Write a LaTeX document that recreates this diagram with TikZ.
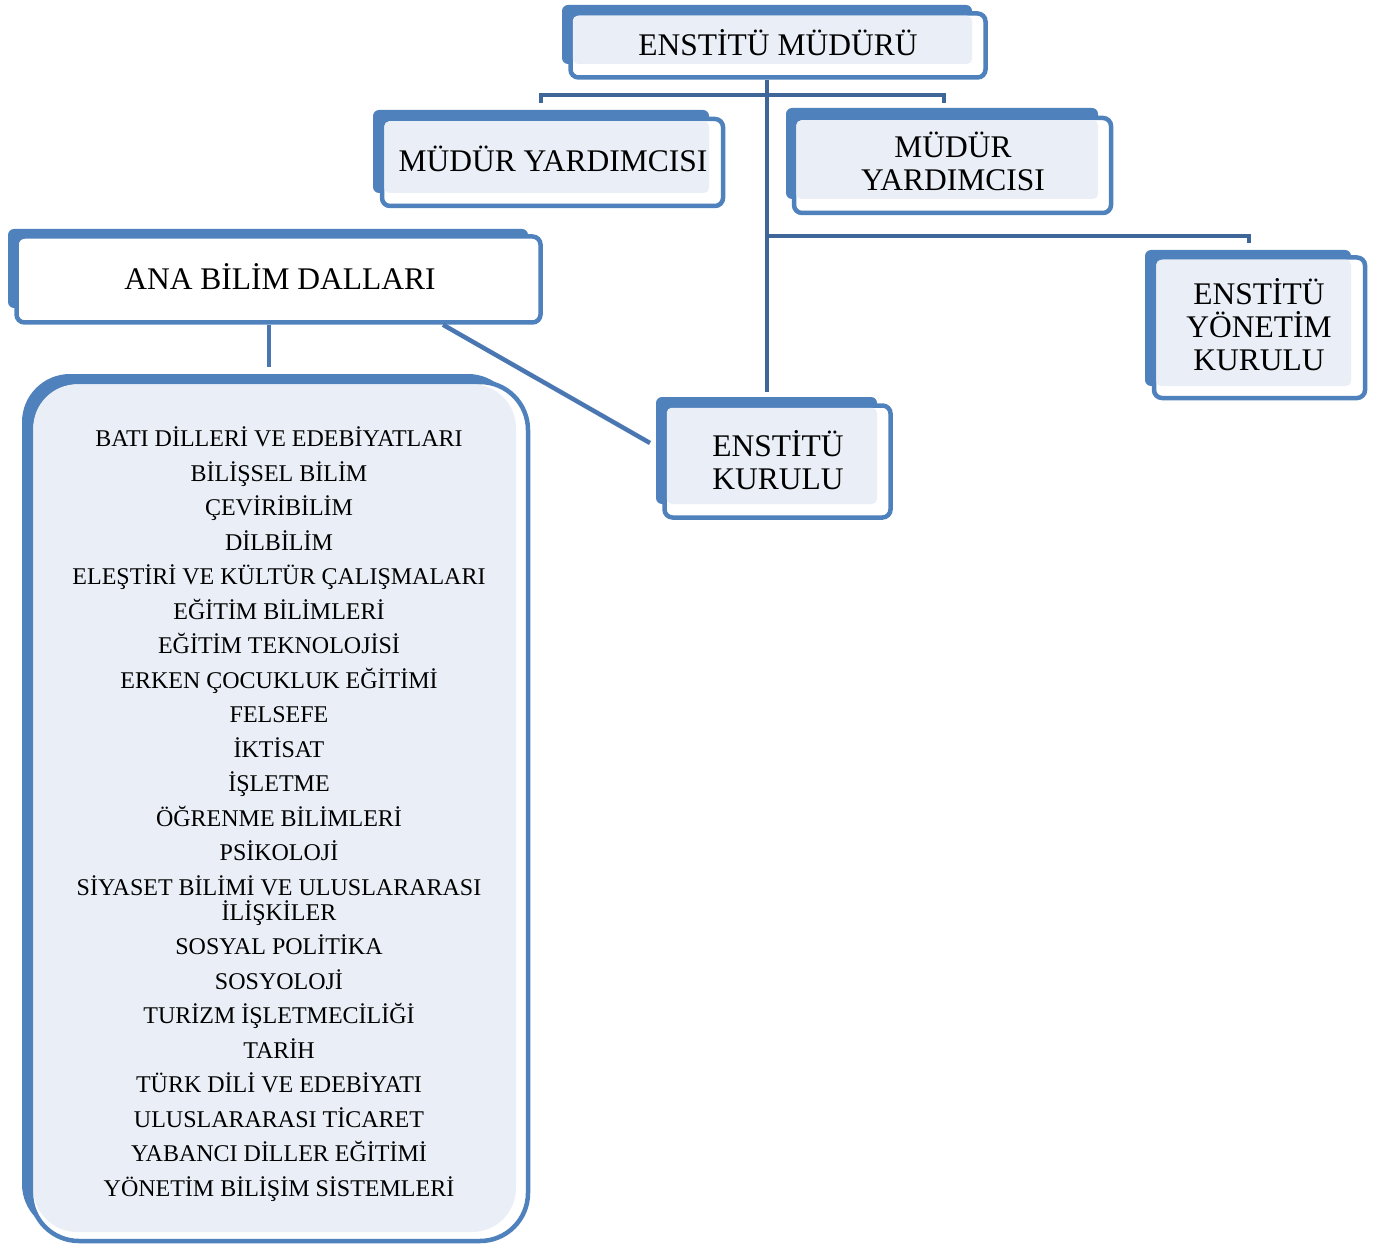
\documentclass[tikz,border=0pt]{standalone}
\usepackage{fontspec}
\setmainfont{Liberation Serif}
\usetikzlibrary{fit}
\definecolor{boxblue}{HTML}{4F81BD}
\definecolor{lightfill}{HTML}{EAEFF7}
\definecolor{treeblue}{HTML}{3F6699}
\definecolor{linkblue}{HTML}{4A77B1}
\newcommand\Lt[1]{\vrule width0pt height 21pt depth 0pt\smash{#1}}
\newcommand\Ls[1]{\vrule width0pt height 16pt depth 0pt\smash{#1}}
\newcommand\orgbox[9]{%
  \fill[boxblue, rounded corners=6pt] (#2,#3) rectangle (#4,#5);
  \node[frontbox, fit={(#6,#7) (#8,#9)}] (#1) {};
}
\tikzset{
  frontbox/.style={draw=boxblue, line width=4.5pt, fill=white, rounded corners=8pt, inner sep=0pt},
  ttl/.style={font=\fontsize{31.5}{33}\selectfont, align=center, inner sep=0pt, text=black},
  lsttxt/.style={font=\fontsize{24}{34.5}\selectfont, align=center, inner sep=0pt, text=black},
  tree/.style={draw=treeblue, line width=4.5pt},
  link/.style={draw=linkblue, line width=4.5pt},
}
\begin{document}
\begin{tikzpicture}[x=1pt, y=-1pt]
\useasboundingbox (0,0) rectangle (1375,1246);

% ENSTITU MUDURU
\orgbox{mud}{562}{5}{972}{64}{570.5}{13.5}{985.5}{77.5}
\fill[lightfill, rounded corners=5pt] (572.75,15.75) rectangle (972,64);
% MUDUR YARDIMCISI left
\orgbox{myl}{373}{110}{709}{193}{382}{119}{723}{206}
\fill[lightfill, rounded corners=5pt] (384.25,121.25) rectangle (709,193);
% MUDUR YARDIMCISI right
\orgbox{myr}{786}{108}{1098}{199}{794}{118}{1111}{213}
\fill[lightfill, rounded corners=5pt] (796.25,120.25) rectangle (1098,199);
% ANA BILIM DALLARI
\orgbox{ana}{8}{229}{528}{308}{16.5}{236.5}{540.5}{322.5}
% ENSTITU YONETIM KURULU
\orgbox{eyk}{1145}{250}{1351}{386}{1154}{257.5}{1365}{398}
\fill[lightfill, rounded corners=5pt] (1156.25,259.75) rectangle (1351,386);
% ENSTITU KURULU
\orgbox{ek}{656}{397}{877}{504}{664.5}{405.5}{890.5}{517.5}
\fill[lightfill, rounded corners=5pt] (666.75,407.75) rectangle (877,504);
% list box
\fill[boxblue, rounded corners=48pt] (22,374) rectangle (516,1232);
\node[frontbox, rounded corners=48pt, fit={(31,382) (528,1241)}] (lstbox) {};
\fill[lightfill, rounded corners=44pt] (33.25,384.25) rectangle (516,1232);

% connectors
\coordinate (tb) at (767,392);
\draw[tree] (mud.south -| tb) -- (tb);
\coordinate (ya) at (541,103);
\coordinate (yb) at (944,103);
\draw[tree] (ya) -- ++(0,-8) -| (yb);
\coordinate (ra) at (767,236);
\coordinate (rb) at (1249,243);
\draw[tree] (ra) -| (rb);
\coordinate (lt) at (269,367);
\draw[link] (ana.south -| lt) -- (lt);
\coordinate (dx) at (443,0);
\coordinate (de) at (650,443);
\draw[link] (ana.south -| dx) -- (de);

% texts
\node[ttl] (t-mud) at (778,45) {\Lt{ENSTİTÜ MÜDÜRÜ}};
\node[ttl] (t-myl) at (553,161) {\Lt{MÜDÜR YARDIMCISI}};
\node[ttl] (t-myr) at (953,163.5) {\Lt{MÜDÜR}\\\Lt{YARDIMCISI}};
\node[ttl] (t-ana) at (280,279) {\Lt{ANA BİLİM DALLARI}};
\node[ttl] (t-eyk) at (1259,327) {\Lt{ENSTİTÜ}\\\Lt{YÖNETİM}\\\Lt{KURULU}};
\node[ttl] (t-ek) at (778,462) {\Lt{ENSTİTÜ}\\\Lt{KURULU}};
\node[lsttxt] (t-lst) at (279,813.25) {%
\Ls{BATI DİLLERİ VE EDEBİYATLARI}\\
\Ls{BİLİŞSEL BİLİM}\\
\Ls{ÇEVİRİBİLİM}\\
\Ls{DİLBİLİM}\\
\Ls{ELEŞTİRİ VE KÜLTÜR ÇALIŞMALARI}\\
\Ls{EĞİTİM BİLİMLERİ}\\
\Ls{EĞİTİM TEKNOLOJİSİ}\\
\Ls{ERKEN ÇOCUKLUK EĞİTİMİ}\\
\Ls{FELSEFE}\\
\Ls{İKTİSAT}\\
\Ls{İŞLETME}\\
\Ls{ÖĞRENME BİLİMLERİ}\\
\Ls{PSİKOLOJİ}\\
\Ls{SİYASET BİLİMİ VE ULUSLARARASI}\\[-9.5pt]
\Ls{İLİŞKİLER}\\
\Ls{SOSYAL POLİTİKA}\\
\Ls{SOSYOLOJİ}\\
\Ls{TURİZM İŞLETMECİLİĞİ}\\
\Ls{TARİH}\\
\Ls{TÜRK DİLİ VE EDEBİYATI}\\
\Ls{ULUSLARARASI TİCARET}\\
\Ls{YABANCI DİLLER EĞİTİMİ}\\
\Ls{YÖNETİM BİLİŞİM SİSTEMLERİ}};
\end{tikzpicture}
\end{document}
